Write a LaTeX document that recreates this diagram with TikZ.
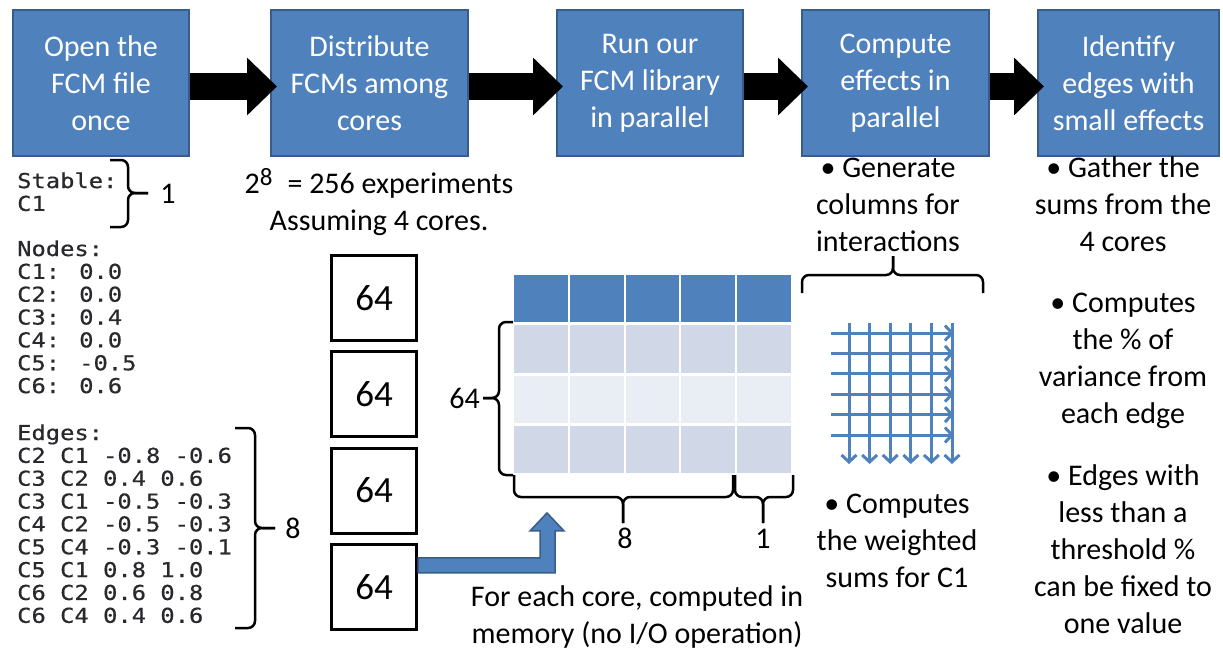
\documentclass[tikz,border=0pt]{standalone}
\usepackage{fontspec}
\setmainfont{Carlito}
\newfontfamily\codefont[FakeStretch=1.16,FakeBold=0.6]{DejaVu Sans Mono}
\usetikzlibrary{arrows.meta,positioning,calc}
\definecolor{main}{RGB}{79,129,189}
\definecolor{mainedge}{RGB}{56,93,138}
\definecolor{rowdark}{RGB}{208,216,232}
\definecolor{rowlight}{RGB}{233,237,244}
\definecolor{codegray}{RGB}{40,40,45}
\tikzset{
  % boxes
	cststep/.style   ={fill=main,draw=mainedge,line width=2pt,text=white,align=center,
	                   minimum height=145pt,inner sep=0pt,font=\fontsize{30}{37}\selectfont},
	cstcore/.style   ={draw=black,line width=3pt,minimum size=85pt,font=\fontsize{37}{37}\selectfont},
  % text (base = last line)
	cstcode/.style   ={anchor=base west,align=left,inner sep=0pt,text=codegray,
	                   font=\codefont\fontsize{20.5}{22.85}\selectfont},
	csttext/.style   ={anchor=base,align=center,inner sep=0pt,font=\fontsize{30}{37}\selectfont},
  % arrow
	cstbig/.style    ={line width=27pt,-{Triangle[length=30pt,width=56pt]},shorten >=-7pt},
	cstgrid/.style   ={main,line width=3pt,-{Straight Barb[length=7pt,width=15pt]}},
	cstbent/.style   ={fill=main,draw=mainedge,line width=1.5pt},
  % brace
	cstbrace/.style  ={line width=2.5pt,rounded corners=7pt}
}

\begin{document}
\begin{tikzpicture}[x=1pt,y=-1pt]
	\useasboundingbox (0,0) rectangle (1223,650);
	% steps
	\node[cststep,minimum width=176pt] (open)  at (101,83)   {Open the\\FCM file\\once};
	\node[cststep,minimum width=197pt] (dist)  at (369.5,83) {Distribute\\FCMs among\\cores};
	\node[cststep,minimum width=186pt] (run)   at (650,83)   {Run our\\FCM library\\in parallel};
	\node[cststep,minimum width=187pt] (comp)  at (895.5,83) {Compute\\effects in\\parallel};
	\node[cststep,minimum width=181pt] (ident) at (1128.5,83){Identify\\edges with\\small effects};
	\foreach \a/\b in {open/dist,dist/run,run/comp,comp/ident}
		\draw[cstbig] ([yshift=-3.5pt]\a.east) -- ([yshift=-3.5pt]\b.west);
	% FCM file
	\node[cstcode] (stable) at (17,210.9) {Stable:\\C1};
	\node[cstcode] (nodes)  at (17,393.1) {Nodes:\\C1: 0.0\\C2: 0.0\\C3: 0.4\\C4: 0.0\\C5: -0.5\\C6: 0.6};
	\node[cstcode] (edges)  at (17,622.8) {Edges:\\C2 C1 -0.8 -0.6\\C3 C2 0.4 0.6\\C3 C1 -0.5 -0.3\\C4 C2 -0.5 -0.3\\C5 C4 -0.3 -0.1\\C5 C1 0.8 1.0\\C6 C2 0.6 0.8\\C6 C4 0.4 0.6};
	\draw[cstbrace] (110,160) -| (128,193) -- (148,193);
	\draw[cstbrace] (110,227) -| (128,193) -- (148,193);
	\node[csttext] (nstable) at (168,203) {1};
	\draw[cstbrace] (235,428) -| (255,528) -- (275,528);
	\draw[cstbrace] (235,628) -| (255,528) -- (275,528);
	\node[csttext] (nedges) at (293,538) {8};
	% experiments and cores
	\node[csttext] (exp) at (379,230) {2\raisebox{8pt}{\fontsize{25}{25}\selectfont 8}\enspace = 256 experiments\\Assuming 4 cores.};
	\node[cstcore] (ca) at (374,298) {64};
	\node[cstcore,below=8.3pt of ca] (cb) {64};
	\node[cstcore,below=8.3pt of cb] (cc) {64};
	\node[cstcore,below=8.3pt of cc] (cd) {64};
	% table in memory
	\fill[main]     (514,275) rectangle (791,323);
	\fill[rowdark]  (514,323) rectangle (791,374);
	\fill[rowlight] (514,374) rectangle (791,424);
	\fill[rowdark]  (514,424) rectangle (791,473);
	\foreach \x in {569,625,680,736}
		\draw[white,line width=2.5pt] (\x,275) -- (\x,473);
	\foreach \y in {323,374,424}
		\draw[white,line width=3pt] (514,\y) -- (791,\y);
	\draw[cstbrace] (513,322) -| (499,398) -- (483,398);
	\draw[cstbrace] (513,475) -| (499,398) -- (483,398);
	\node[csttext,anchor=base east] (nrows) at (480,408) {64};
	\draw[cstbrace] (514,475) |- (623,497) -- (623,523);
	\draw[cstbrace] (733,475) |- (623,497) -- (623,523);
	\node[csttext] (ncols) at (625,548) {8};
	\draw[cstbrace] (735,475) |- (763,497) -- (763,523);
	\draw[cstbrace] (793,475) |- (763,497) -- (763,523);
	\node[csttext] (nout) at (763,548) {1};
	\draw[cstbent] ($(cd.east)+(0,-14)$) -- ++(137,0) -- ++(0,-42) -- ++(9,0) -- ++(-17,-18)
		-- ++(-17,18) -- ++(10,0) -- ++(0,27) -- ++(-122,0) -- cycle;
	\node[csttext] (mem) at (637,643) {For each core, computed in\\memory (no I/O operation)};
	% interactions
	\draw[cstbrace] (802,293) |- (893,275) -- (893,256);
	\draw[cstbrace] (983,293) |- (893,275) -- (893,256);
	\foreach \i in {0,...,5} {
		\draw[cstgrid] (849+20.6*\i,323) -- (849+20.6*\i,464);
		\draw[cstgrid] (831,333+20.4*\i) -- (954,333+20.4*\i);
	}
	\node[csttext] (gen)  at (888,251) {\textbullet\ Generate\\columns for\\interactions};
	\node[csttext] (wsum) at (897,587) {\textbullet\ Computes\\the weighted\\sums for C1};
	% results
	\node[csttext] (gather) at (1123,251) {\textbullet\ Gather the\\sums from the\\4 cores};
	\node[csttext] (pct)    at (1123,423) {\textbullet\ Computes\\the \% of\\variance from\\each edge};
	\node[csttext] (small)  at (1123,633) {\textbullet\ Edges with\\less than a\\threshold \%\\can be fixed to\\one value};
\end{tikzpicture}
\end{document}
